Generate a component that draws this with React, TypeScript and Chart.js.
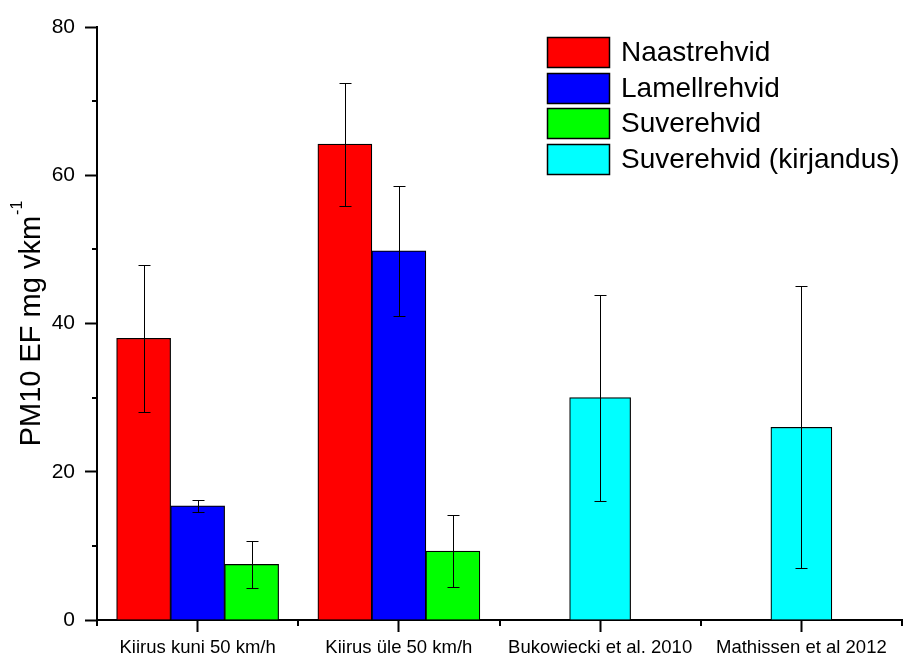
import React, { useEffect, useRef } from 'react';
import { Chart, registerables } from 'chart.js';

Chart.register(...registerables);

// ---- Data ----
const categories = ['Kiirus kuni 50 km/h', 'Kiirus üle 50 km/h', 'Bukowiecki et al. 2010', 'Mathissen et al 2012'];
const seriesNames = ['Naastrehvid', 'Lamellrehvid', 'Suverehvid', 'Suverehvid (kirjandus)'];
const naastValues = [38.0, 64.2, null, null];
const naastErrors = [9.9, 8.3, null, null];
const lamellValues = [15.4, 49.8, null, null];
const lamellErrors = [0.85, 8.75, null, null];
const suveValues = [7.5, 9.3, null, null];
const suveErrors = [3.15, 4.8, null, null];
const kirjValues = [null, null, 30.0, 26.0];
const kirjErrors = [null, null, 13.9, 19.0];
const yMajorTicks = [0, 20, 40, 60, 80];
const yMinorTicks = [10, 30, 50, 70];
const yTitleMain = 'PM10 EF mg vkm';
const yTitleSup = '-1';

const FONT = '"Liberation Sans", Arial, Helvetica, sans-serif';

const errorBarPlugin = {
  id: 'errorBars',
  afterDatasetsDraw(chart: any) {
    const ctx = chart.ctx;
    const yScale = chart.scales.y;
    ctx.save();
    ctx.strokeStyle = '#000';
    ctx.lineWidth = 1;
    chart.data.datasets.forEach((ds: any, i: number) => {
      const meta = chart.getDatasetMeta(i);
      meta.data.forEach((el: any, j: number) => {
        const v = ds.data[j];
        const e = ds.errors ? ds.errors[j] : null;
        if (v == null || e == null) return;
        const x = Math.round(el.x) + 0.5;
        const yTop = Math.round(yScale.getPixelForValue(v + e)) + 0.5;
        const yBot = Math.round(yScale.getPixelForValue(v - e)) + 0.5;
        const cap = 6;
        ctx.beginPath();
        ctx.moveTo(x, yTop);
        ctx.lineTo(x, yBot);
        ctx.moveTo(x - cap, yTop);
        ctx.lineTo(x + cap, yTop);
        ctx.moveTo(x - cap, yBot);
        ctx.lineTo(x + cap, yBot);
        ctx.stroke();
      });
    });
    ctx.restore();
  },
};

const decorPlugin = {
  id: 'decor',
  afterDraw(chart: any) {
    const ctx = chart.ctx;
    const area = chart.chartArea;
    const xScale = chart.scales.x;
    const yScale = chart.scales.y;
    ctx.save();
    // minor ticks
    ctx.strokeStyle = '#000';
    ctx.lineWidth = 2;
    ctx.beginPath();
    yMinorTicks.forEach((v) => {
      const y = Math.round(yScale.getPixelForValue(v));
      ctx.moveTo(area.left, y);
      ctx.lineTo(area.left - 5, y);
    });
    for (let i = 0; i <= categories.length; i++) {
      const x = Math.round(xScale.getPixelForValue(i - 0.5));
      ctx.moveTo(x, area.bottom);
      ctx.lineTo(x, area.bottom + 6);
    }
    ctx.stroke();

    // y axis title with superscript
    ctx.fillStyle = '#000';
    ctx.translate(40, (area.top + area.bottom) / 2);
    ctx.rotate(-Math.PI / 2);
    ctx.textBaseline = 'alphabetic';
    ctx.textAlign = 'left';
    ctx.font = `29px ${FONT}`;
    const wMain = ctx.measureText(yTitleMain).width;
    ctx.font = `16px ${FONT}`;
    const wSup = ctx.measureText(yTitleSup).width;
    const start = -(wMain + wSup + 1) / 2;
    ctx.font = `29px ${FONT}`;
    ctx.fillText(yTitleMain, start, 0);
    ctx.font = `16px ${FONT}`;
    ctx.fillText(yTitleSup, start + wMain + 1, -18);
    ctx.restore();

    // legend
    ctx.save();
    const boxLeft = area.right - 355;
    const boxTop = area.top + 10;
    const pitch = 35.7;
    ctx.font = `28px ${FONT}`;
    ctx.textBaseline = 'middle';
    ctx.textAlign = 'left';
    chart.data.datasets.forEach((ds: any, i: number) => {
      const y = Math.round(boxTop + i * pitch);
      ctx.fillStyle = ds.backgroundColor;
      ctx.fillRect(boxLeft, y, 63, 31);
      ctx.strokeStyle = '#000';
      ctx.lineWidth = 1.5;
      ctx.strokeRect(boxLeft + 0.5, y + 0.5, 62, 30);
      ctx.fillStyle = '#000';
      ctx.fillText(ds.label, boxLeft + 74, y + 16.5);
    });
    ctx.restore();
  },
};

export default function App() {
  const ref = useRef<HTMLCanvasElement | null>(null);

  useEffect(() => {
    if (!ref.current) return;
    const mk = (label: string, data: any[], errors: any[], color: string, thick: number) => ({
      label,
      data,
      errors,
      backgroundColor: color,
      borderColor: '#000',
      borderWidth: 1.2,
      barThickness: thick,
      skipNull: true,
    });
    const chart = new Chart(ref.current, {
      type: 'bar',
      data: {
        labels: categories,
        datasets: [
          mk(seriesNames[0], naastValues, naastErrors, '#FF0000', 54),
          mk(seriesNames[1], lamellValues, lamellErrors, '#0000FF', 54),
          mk(seriesNames[2], suveValues, suveErrors, '#00FF00', 54),
          mk(seriesNames[3], kirjValues, kirjErrors, '#00FFFF', 61),
        ] as any,
      },
      options: {
        animation: false,
        responsive: false,
        events: [],
        layout: { padding: { left: 0, right: 10, top: 27, bottom: 0 } },
        plugins: {
          legend: { display: false },
          tooltip: { enabled: false },
          title: { display: false },
        },
        scales: {
          x: {
            type: 'category',
            offset: true,
            grid: {
              offset: false,
              drawOnChartArea: false,
              drawTicks: true,
              tickLength: 12,
              tickWidth: 2,
              tickColor: '#000',
            },
            border: { display: true, color: '#000', width: 2 },
            ticks: {
              color: '#000',
              font: { family: FONT, size: 18.5 },
              padding: 5,
              maxRotation: 0,
              autoSkip: false,
            },
            afterFit: (scale: any) => {
              scale.height = 38;
            },
          },
          y: {
            min: 0,
            max: 80,
            afterBuildTicks: (scale: any) => {
              scale.ticks = yMajorTicks.map((v) => ({ value: v }));
            },
            grid: {
              drawOnChartArea: false,
              drawTicks: true,
              tickLength: 12,
              tickWidth: 2,
              tickColor: '#000',
            },
            border: { display: true, color: '#000', width: 2 },
            ticks: {
              color: '#000',
              font: { family: FONT, size: 21 },
              padding: 10,
            },
            afterFit: (scale: any) => {
              scale.width = 97;
            },
          },
        },
      },
      plugins: [errorBarPlugin, decorPlugin],
    } as any);
    return () => chart.destroy();
  }, []);

  return (
    <div style={{ position: 'absolute', left: 0, top: 0, width: 912, height: 658, background: '#fff' }}>
      <canvas ref={ref} width={912} height={658} style={{ width: 912, height: 658, display: 'block' }} />
    </div>
  );
}
